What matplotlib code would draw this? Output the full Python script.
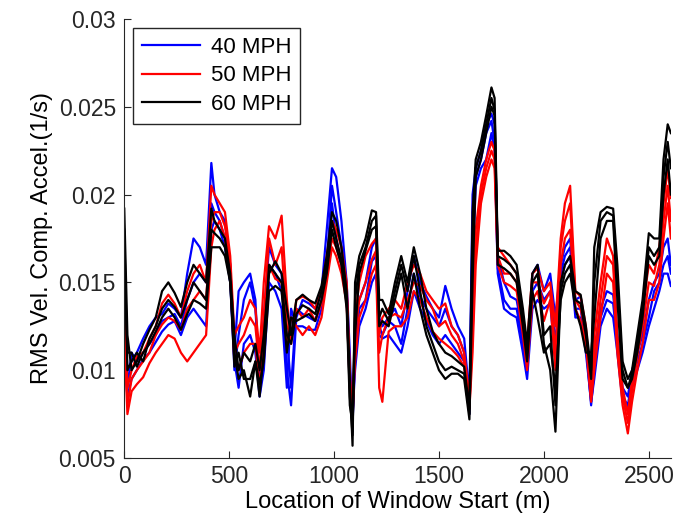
import matplotlib
matplotlib.use("Agg")
import matplotlib.pyplot as plt
import numpy as np

# window start locations (m), shared by every run
location = [
    0, 15, 35, 60, 90, 120, 150, 180, 210, 240,
    270, 300, 330, 360, 390, 415, 430, 455, 480, 505,
    525, 545, 570, 600, 625, 645, 665, 690, 720, 750,
    775, 795, 820, 850, 880, 910, 940, 965, 990, 1010,
    1035, 1060, 1075, 1088, 1100, 1120, 1150, 1180, 1200, 1215,
    1230, 1260, 1290, 1320, 1350, 1380, 1410, 1440, 1470, 1500,
    1530, 1560, 1590, 1620, 1645, 1660, 1675, 1700, 1725, 1750,
    1765, 1780, 1810, 1840, 1870, 1900, 1920, 1945, 1970, 2000,
    2030, 2055, 2080, 2100, 2125, 2150, 2175, 2200, 2225, 2240,
    2270, 2300, 2330, 2350, 2375, 2400, 2420, 2445, 2470, 2500,
    2525, 2550, 2570, 2590, 2605,
]

# RMS values in units of 1e-3 1/s, three runs per speed
mph40_runs = [
    [14, 10, 10.5, 11, 11.8, 12.5, 13, 13.2, 13.8, 13.5,
     13, 15.5, 17.5, 17, 16, 21.8, 20, 19, 18.5, 16,
     11, 14.5, 15, 15.5, 14, 9, 13, 17, 16, 15.5,
     10, 8, 13, 14, 13.8, 13.5, 14.5, 18, 21.5, 21,
     18.5, 15, 11, 6.5, 13, 14, 15, 17, 17.5, 13,
     12.5, 13, 13.5, 12.5, 14.5, 16.5, 15, 14.2, 13.5, 13,
     14.8, 13.5, 12.5, 11.8, 8.5, 20, 21.5, 22.5, 24, 24.6,
     24, 16.5, 15, 14.2, 14, 12, 10.5, 15.5, 16, 14.5,
     15.5, 13, 16, 17, 17.5, 14, 14.2, 12, 8.5, 11,
     13.5, 14.5, 14.3, 12, 9, 8.5, 10, 11, 12, 14,
     15, 15.5, 17, 17.5, 16],
    [12.5, 9, 11, 10.5, 11, 11.5, 12, 12.8, 13, 13.2,
     12.5, 14, 15, 15.5, 15, 19.5, 19, 18.5, 17.5, 15.5,
     10, 12, 14, 15, 13.5, 9.5, 11, 16, 15.5, 14.5,
     12, 9, 13.5, 13.2, 13, 12.8, 14, 16, 20.5, 19,
     17, 14.5, 10, 7, 11, 13.5, 14, 16.2, 16.5, 12.5,
     12, 12.8, 12.5, 11.5, 13.5, 15.5, 14.2, 13.5, 13, 12.5,
     13.5, 12.5, 12, 11, 8, 18, 21, 22, 23.5, 24.2,
     23, 15.8, 14, 13.5, 13.5, 11.5, 10, 14.5, 15, 14,
     14.5, 11.5, 15.5, 16.5, 17, 13.5, 13.5, 11.5, 8, 10,
     13, 14, 13.8, 11.5, 8.5, 8, 9.5, 10.5, 11.5, 13,
     14.5, 15, 16, 16.5, 15.5],
    [11, 8.5, 9.5, 10, 10.6, 11, 11.6, 12.2, 12.6, 12.8,
     12, 13, 13.5, 13, 12.5, 18, 18.5, 18, 17, 15,
     10.5, 9, 11.5, 12, 11, 8.5, 10, 15, 14.5, 13.5,
     9, 13.5, 12.5, 12.5, 12.3, 12.3, 13.5, 15.5, 19.5, 17.5,
     16, 14, 9, 7.5, 10, 12.5, 13.5, 15, 15.5, 12,
     11.8, 12, 11.5, 11, 12.5, 14.5, 13.5, 12.8, 12, 11.5,
     12, 11.5, 11, 10.5, 7.5, 16, 20.5, 21.5, 22, 23.5,
     22.5, 15.5, 13.5, 13.2, 13, 11, 9.5, 13.5, 14, 13.5,
     13.8, 10.5, 15, 16, 16.5, 13, 13, 11, 8.2, 9.5,
     12.5, 13.5, 13, 11, 8.2, 7.8, 9, 10, 11, 12.5,
     13.5, 14.5, 15.5, 15.5, 14.8],
]

mph50_runs = [
    [17, 9, 10, 10.8, 11, 11.8, 12.5, 13.8, 14.3, 13.8,
     13, 14.5, 15.5, 16, 15, 20.5, 20, 19.5, 19, 16.5,
     12, 12.5, 13, 14, 13.5, 11, 15, 18.2, 17.5, 18.8,
     14, 11.5, 14, 14.2, 14, 13.5, 14.5, 16.5, 18.5, 18,
     17, 15, 10, 6.8, 13, 15, 16.5, 17.2, 17.5, 12,
     13, 13.5, 14, 13.5, 15, 16, 15.5, 14.5, 14, 13.5,
     13.8, 12.5, 12, 11, 8.5, 13, 18, 20.5, 22, 23,
     22.5, 17, 16.5, 16, 15.5, 13, 11.5, 15.5, 15.8, 14.5,
     15, 12.5, 17.5, 19.5, 20.5, 14.5, 14.2, 12.5, 9, 12,
     15, 17.5, 16.5, 12, 9, 7.5, 9.5, 11.5, 13.5, 16,
     15.5, 17, 19.5, 21.5, 19.8],
    [15, 8, 9.5, 10, 10.5, 11, 12, 12.6, 13, 12.8,
     12.3, 13.5, 14, 14.5, 14, 18.5, 19, 19, 18.2, 16,
     11, 11.5, 12, 13, 12.5, 10, 13, 17.5, 16, 17,
     12.5, 12, 13.5, 13, 13.5, 12.8, 13.8, 15.5, 17.5, 17,
     16, 14.5, 9.5, 7.2, 12, 14, 15, 16.3, 16.8, 11,
     12, 13, 13.2, 13, 14, 15, 14.8, 14, 13.5, 12.5,
     12.8, 12, 11.5, 10.5, 8, 12, 17, 20, 21.5, 22.5,
     22, 16.5, 15.5, 15.5, 15, 12.5, 10.5, 15, 15, 13.8,
     14.5, 11, 17, 18.5, 19.5, 14, 13.5, 12, 8.5, 11,
     14, 16.5, 16, 11.5, 8.5, 7, 8.8, 10.8, 12.5, 15,
     14.8, 16, 18.5, 20.5, 18.5],
    [12, 7.5, 8.8, 9.2, 9.6, 10.4, 11, 11.5, 12, 11.8,
     11, 10.5, 11, 11.5, 12, 17, 18, 18.5, 17.5, 15.5,
     10.5, 10, 11, 11.5, 11.5, 9, 12, 16, 15.2, 15,
     11.5, 13, 12.5, 12, 12.5, 12, 13, 15, 17, 16.5,
     15.5, 13.8, 9, 7.8, 10.5, 13, 14, 15.5, 16, 9,
     8.2, 12.2, 12.5, 12.5, 13, 14.5, 14, 13, 12.2, 11.8,
     11.5, 11.2, 10.8, 10.2, 7.8, 11, 16, 19.5, 21, 22,
     21.5, 16, 15, 14.8, 14.5, 12, 10, 14, 14.5, 12.8,
     14, 10, 16, 17.5, 18, 13.5, 12.8, 11.5, 8.2, 10,
     13, 15.5, 15, 11, 8, 6.4, 8.2, 10, 11.5, 14,
     14, 15, 17.5, 19.5, 17.5],
]

mph60_runs = [
    [19.2, 12, 10, 10.5, 11.5, 12.3, 13, 14.5, 15, 14.4,
     13.6, 15, 16, 15.5, 15, 19.2, 18.5, 18, 17.5, 15.5,
     12, 10, 11, 10.5, 11.5, 10, 12, 15.5, 16.2, 15.5,
     13.5, 12, 14, 14.3, 14, 13.8, 14.8, 16.5, 19, 18.5,
     17, 14.5, 9.5, 5.7, 15, 16.5, 17.5, 19.1, 19, 14,
     14, 13.2, 15, 16.5, 15, 17, 15.5, 13.5, 12.2, 11.5,
     11, 10.8, 10.5, 10.2, 7.8, 19, 22, 23, 24.5, 26.1,
     25.5, 16.8, 16.8, 16.5, 16, 13.5, 11.5, 15.5, 16, 12,
     12.5, 8, 15, 16, 16.5, 14.5, 14.3, 12.5, 10, 17,
     19, 19.3, 19.2, 16, 10.5, 9.5, 10, 12, 14, 17.8,
     17.5, 17.5, 22, 24, 23.5],
    [18, 10, 10.5, 11, 10.5, 11.8, 12.5, 13.5, 14, 13.6,
     13, 14, 15, 14.5, 14, 18, 17.8, 17.5, 17, 15,
     11, 9.5, 10, 8.5, 10.5, 8.5, 11, 16, 15.5, 15,
     12, 11.5, 13.2, 13.7, 13.5, 13.2, 14.5, 16, 18.5, 17.5,
     16.3, 14, 8.5, 6.3, 14, 16, 17, 18.5, 18.8, 13,
     13.5, 12.8, 14.5, 16, 14.5, 16.5, 14.5, 12.5, 11.5, 10.5,
     10, 10.2, 10, 9.8, 7.5, 17, 21.5, 22.5, 24, 25.5,
     24.8, 16.5, 16.3, 16, 15.5, 13, 11, 15, 15.5, 11.5,
     10, 6.5, 14.5, 15.5, 16, 14, 13.8, 12, 9.5, 15,
     18.5, 19, 18.8, 15, 10, 9, 9.8, 11.5, 13.5, 17,
     16.5, 17, 21, 23, 21.5],
    [16, 11, 11, 10.2, 11, 11.5, 12.2, 13, 13.5, 13,
     12.3, 13.2, 14, 13.8, 13.5, 17, 17, 17, 16.5, 15,
     10.2, 11, 9.5, 9.5, 10.5, 9.2, 10.5, 14.5, 14.8, 14.5,
     11, 13, 12.8, 13, 13.2, 12.8, 14, 15.5, 18, 17,
     16, 13.5, 8, 7, 12, 15.5, 16.8, 18, 18.2, 12.5,
     12.8, 12.5, 14, 15.5, 13.5, 15.5, 13.5, 12, 11, 10,
     9.5, 9.8, 9.8, 9.5, 7.2, 15, 21, 22, 23.5, 25,
     24.5, 16, 15.8, 15.5, 15, 12.5, 10.5, 14.5, 13, 11,
     11.5, 9, 14, 15, 15.5, 13.5, 12.5, 11, 11, 13,
     17.5, 18.5, 18.5, 14, 9.5, 9, 9.5, 11, 13, 16.5,
     16, 16.5, 20, 22, 20],
]

speeds = ["40 MPH", "50 MPH", "60 MPH"]
colors = ["#0000ff", "#ff0000", "#000000"]

plt.rcParams["font.family"] = ["Liberation Sans", "DejaVu Sans"]

fig = plt.figure(figsize=(6.79, 5.19), dpi=100)
ax = fig.add_axes([0.183, 0.1175, 0.805, 0.846])

for runs, label, color in zip([mph40_runs, mph50_runs, mph60_runs], speeds, colors):
    for i, run in enumerate(runs):
        ax.plot(location, np.array(run) / 1000.0, color=color, lw=1.6,
                label=label if i == 0 else None)

ax.set_xlim(0, 2605)
ax.set_ylim(0.005, 0.03)
ax.set_xticks([0, 500, 1000, 1500, 2000, 2500])
ax.set_yticks([0.005, 0.01, 0.015, 0.02, 0.025, 0.03])
ax.set_yticklabels(["0.005", "0.01", "0.015", "0.02", "0.025", "0.03"])
ax.tick_params(direction="in", length=5, labelsize=16.5, colors="#262626")
ax.tick_params(axis="y", pad=6)
ax.tick_params(axis="x", pad=5)
ax.spines["top"].set_visible(False)
ax.spines["right"].set_visible(False)
for side in ["left", "bottom"]:
    ax.spines[side].set_color("#262626")
ax.set_xlabel("Location of Window Start (m)", fontsize=17, labelpad=2)
ax.set_ylabel("RMS Vel. Comp. Accel.(1/s)", fontsize=17, labelpad=4)

leg = ax.legend(loc="upper left", fontsize=16, fancybox=False, framealpha=1,
                edgecolor="#262626", handlelength=2.6, handletextpad=0.5,
                labelspacing=0.35, borderaxespad=0.4,
                bbox_to_anchor=(0.0, 1.0))
leg.get_frame().set_linewidth(1.0)

fig.savefig("out.png", dpi=100)
